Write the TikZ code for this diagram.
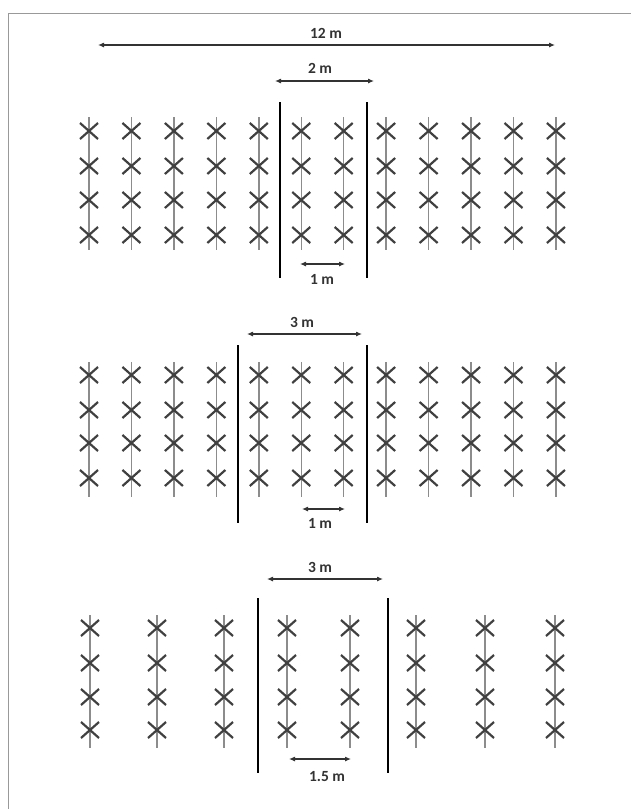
\documentclass[tikz,border=0pt]{standalone}
\usepackage{fontspec}
\setmainfont{Carlito}
\usetikzlibrary{arrows.meta}
\newcommand\plantcol[4]{%
  \draw[stem] (#1,#2) -- (#1,#3);
  \foreach \r in {#4} {\draw[plant] (#1-9,\r-8) -- (#1+9,\r+8) (#1-9,\r+8) -- (#1+9,\r-8);}%
}
\begin{document}
\begin{tikzpicture}[x=1pt,y=-1pt,
  stem/.style={draw=black!45, line width=1.4pt},
  plant/.style={draw=black!75, line width=2.2pt},
  barrier/.style={draw=black, line width=2.6pt},
  dim/.style={draw=black!80, line width=1.1pt, {Latex[length=6pt,width=5pt]}-{Latex[length=6pt,width=5pt]}},
  lbl/.style={font=\bfseries\fontsize{15.5}{18}\selectfont, text=black!80, inner sep=0pt}]
\useasboundingbox (0,0) rectangle (631,809);
\draw[black!40, line width=1pt] (631,13) -- (8,13) -- (8,809);

% ---------- panel 1 ----------
\foreach \i in {0,...,11} {\plantcol{89+42.45*\i}{117}{250}{131,166,200,235}}
\draw[barrier] (280,102) -- (280,278);
\draw[barrier] (367,102) -- (367,278);
\coordinate (a1) at (98,45); \coordinate (b1) at (555,45);
\draw[dim] (a1) -- (b1);
\node[lbl] (t12) at (326,33) {12 m};
\coordinate (a2) at (275,81); \coordinate (b2) at (374,81);
\draw[dim] (a2) -- (b2);
\node[lbl] (t2) at (320,68) {2 m};
\coordinate (a3) at (300,264); \coordinate (b3) at (345,264);
\draw[dim] (a3) -- (b3);
\node[lbl] (t1a) at (322,279) {1 m};

% ---------- panel 2 ----------
\foreach \i in {0,...,11} {\plantcol{89+42.45*\i}{362}{497}{375,410,443,478}}
\draw[barrier] (238,345) -- (238,523);
\draw[barrier] (367,345) -- (367,523);
\coordinate (a4) at (247,334); \coordinate (b4) at (362,334);
\draw[dim] (a4) -- (b4);
\node[lbl] (t3a) at (302,322) {3 m};
\coordinate (a5) at (302,509); \coordinate (b5) at (345,509);
\draw[dim] (a5) -- (b5);
\node[lbl] (t1b) at (320,523) {1 m};

% ---------- panel 3 ----------
\foreach \x in {90,157,224,287,350,416,485,555} {\plantcol{\x}{615}{748}{628,663,697,730}}
\draw[barrier] (258,598) -- (258,773);
\draw[barrier] (388,598) -- (388,773);
\coordinate (a6) at (267,579); \coordinate (b6) at (383,579);
\draw[dim] (a6) -- (b6);
\node[lbl] (t3b) at (320,567) {3 m};
\coordinate (a7) at (289,759); \coordinate (b7) at (351,759);
\draw[dim] (a7) -- (b7);
\node[lbl] (t15) at (327,777) {1.5 m};
\end{tikzpicture}
\end{document}
